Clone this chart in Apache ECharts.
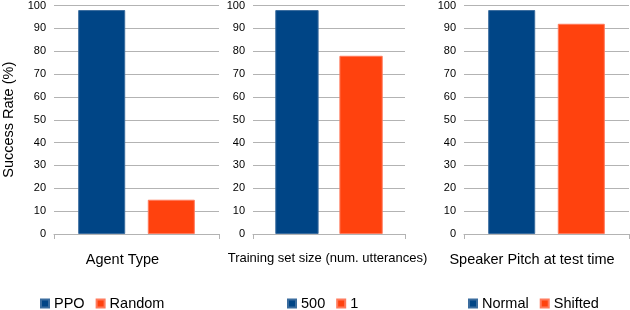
<!DOCTYPE html>
<html>
<head>
<meta charset="utf-8">
<script src="https://cdn.jsdelivr.net/npm/echarts@6/dist/echarts.min.js"></script>
<style>
html,body{margin:0;padding:0;background:#fff;}
#chart{width:630px;height:310px;}
</style>
</head>
<body>
<div id="chart"></div>
<script>
// ---- data ----
var panelTitles = ["Agent Type", "Training set size (num. utterances)", "Speaker Pitch at test time"];
var firstNames = ["PPO", "500", "Normal"];
var secondNames = ["Random", "1", "Shifted"];
var firstValues = [98, 98, 98];
var secondValues = [15, 78, 92];
var yMin = 0, yMax = 100, yInterval = 10;
var yAxisTitle = "Success Rate (%)";

// ---- layout / style ----
var FONT = "Liberation Sans";
var BLUE = "#004586", ORANGE = "#ff420e";
var grids = [
  {left: 53, width: 166, top: 3, height: 231},
  {left: 253, width: 152, top: 3, height: 231},
  {left: 464, width: 165, top: 3, height: 231}
];
var titleFont = [14.5, 13, 14.5];
var titlePad = [[0, 28, 0, 0], [0, 3, 0, 0], [0, 29, 0, 0]];
var legendLeft = [40, 287, 468];

var option = {
  animation: false,
  backgroundColor: "#fff",
  textStyle: {fontFamily: FONT},
  grid: grids,
  xAxis: [], yAxis: [], series: [], legend: []
};

for (var i = 0; i < 3; i++) {
  option.xAxis.push({
    type: "category", gridIndex: i, data: [panelTitles[i]],
    axisLine: {show: true, lineStyle: {color: "#b3b3b3", width: 1}},
    axisTick: {show: true, length: 5, lineStyle: {color: "#b3b3b3"}},
    axisLabel: {margin: 18, fontSize: titleFont[i], color: "#000", fontFamily: FONT, padding: titlePad[i]}
  });
  option.yAxis.push({
    type: "value", gridIndex: i, min: yMin, max: yMax, interval: yInterval,
    name: i === 0 ? yAxisTitle : "",
    nameLocation: "middle", nameGap: 38,
    nameTextStyle: {fontSize: 14.5, color: "#000", fontFamily: FONT},
    axisLine: {show: false}, axisTick: {show: false},
    axisLabel: {fontSize: 11, color: "#000", margin: 8, fontFamily: FONT},
    splitLine: {show: true, lineStyle: {color: "#b3b3b3", width: 1}}
  });
  option.series.push({
    name: firstNames[i], type: "bar", xAxisIndex: i, yAxisIndex: i,
    data: [firstValues[i]], barWidth: "28.5%", barGap: "48%",
    itemStyle: {color: BLUE, borderColor: "#3a6c9e", borderWidth: 1}
  });
  option.series.push({
    name: secondNames[i], type: "bar", xAxisIndex: i, yAxisIndex: i,
    data: [secondValues[i]], barWidth: "28.5%", barGap: "48%",
    itemStyle: {color: ORANGE, borderColor: "#ff7a5c", borderWidth: 1}
  });
  option.legend.push({
    data: [firstNames[i], secondNames[i]],
    left: legendLeft[i], top: 296, padding: 0,
    icon: "rect", itemWidth: 8, itemHeight: 8, itemGap: 11,
    textStyle: {fontSize: 14.5, color: "#000", fontFamily: FONT},
    selectedMode: false
  });
}

var chart = echarts.init(document.getElementById("chart"), null, {renderer: "canvas"});
chart.setOption(option);
</script>
</body>
</html>
